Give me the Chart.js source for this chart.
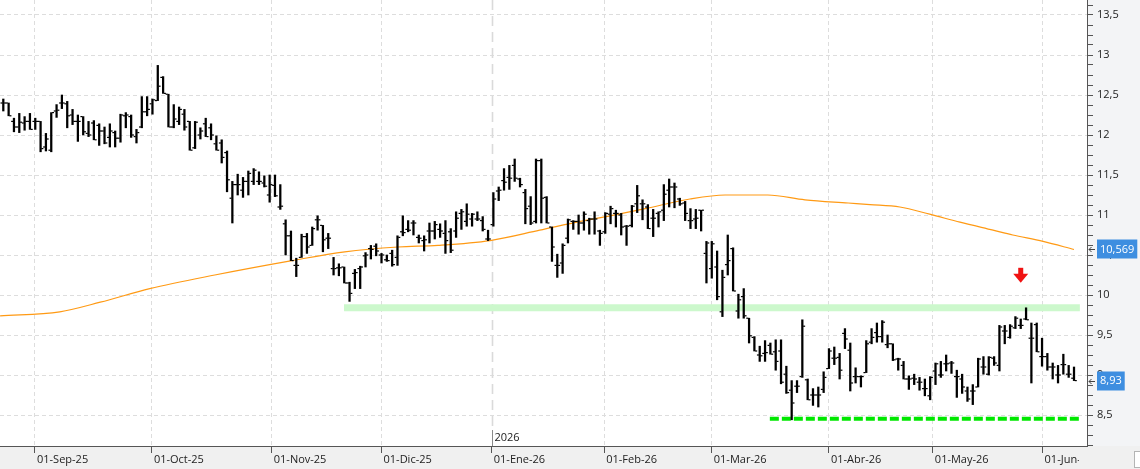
<!DOCTYPE html>
<html lang="es">
<head>
<meta charset="utf-8">
<title>Cotización diaria</title>
<script src="https://cdn.jsdelivr.net/npm/chart.js@4.4.1/dist/chart.umd.min.js"></script>
<style>
  html, body { margin: 0; padding: 0; background: #fff; }
</style>
</head>
<body>
<canvas id="grafica" width="1140" height="469"></canvas>
<script>
// barras diarias (indice 0 = primera sesion visible, finales de agosto 2025)
const aperturas = [
  12.40,12.40,12.17,12.10,12.15,12.17,12.17,12.17,11.85,11.81,
  12.30,12.40,12.39,12.25,12.17,12.23,12.02,12.15,12.12,12.05,
  11.97,12.03,11.96,12.24,12.23,11.98,12.10,12.29,12.39,12.43,
  12.72,12.51,12.10,12.17,12.26,12.17,11.84,12.00,12.14,12.09,
  11.89,11.90,11.78,11.21,11.38,11.31,11.42,11.42,11.42,11.40,
  11.25,11.37,11.10,10.89,10.74,10.37,10.47,10.73,10.62,10.94,
  10.87,10.71,10.33,10.34,10.35,10.15,10.27,10.33,10.49,10.58,
  10.61,10.50,10.44,10.52,10.47,10.79,10.82,10.90,10.72,10.68,
  10.80,10.80,10.82,10.77,10.79,10.80,11.02,10.92,10.95,10.95,
  10.93,10.70,10.88,11.30,11.43,11.47,11.62,11.45,11.28,11.11,
  10.92,11.68,11.22,10.85,10.37,10.40,10.71,10.92,10.92,10.90,
  10.93,10.95,10.80,10.79,11.01,11.02,11.00,10.86,10.87,11.14,
  11.14,11.10,10.96,11.02,11.06,11.31,11.35,11.20,11.15,10.93,
  10.95,11.06,10.52,10.33,10.35,9.79,10.38,10.58,9.80,9.98,
  9.71,9.47,9.25,9.27,9.37,9.29,9.30,9.01,8.81,8.86,
  8.98,8.94,8.75,8.75,8.82,9.08,9.21,9.22,9.52,9.31,
  8.98,8.98,9.03,9.41,9.53,9.48,9.38,9.39,9.20,9.12,
  8.95,8.96,8.91,8.83,8.74,9.05,9.00,9.14,9.15,8.98,
  8.95,8.80,8.80,8.85,9.10,9.01,9.21,9.12,9.55,9.47,
  9.59,9.62,9.70,9.46,9.63,9.23,9.23,9.10,9.00,9.13,
  9.01,8.96
];
const maximos = [
  12.45,12.40,12.21,12.27,12.23,12.27,12.21,12.17,12.02,12.28,
  12.38,12.50,12.42,12.32,12.25,12.23,12.17,12.18,12.14,12.10,
  12.14,12.05,12.26,12.28,12.25,12.07,12.48,12.48,12.45,12.87,
  12.73,12.51,12.38,12.35,12.32,12.17,12.17,12.09,12.21,12.14,
  11.99,11.94,11.80,11.42,11.51,11.47,11.55,11.58,11.54,11.49,
  11.50,11.50,11.38,10.94,10.80,10.46,10.76,10.77,10.85,10.99,
  10.87,10.77,10.47,10.39,10.35,10.16,10.32,10.36,10.53,10.62,
  10.64,10.52,10.50,10.56,10.74,10.99,10.93,10.93,10.75,10.74,
  10.90,10.92,10.89,10.93,10.83,11.04,11.07,11.14,11.02,11.04,
  10.98,10.81,11.28,11.35,11.58,11.62,11.70,11.46,11.32,11.23,
  11.70,11.70,11.23,10.85,10.51,10.64,10.95,10.93,11.00,11.04,
  10.96,11.04,10.81,11.03,11.11,11.06,11.02,10.87,11.12,11.37,
  11.19,11.13,11.07,11.04,11.38,11.45,11.40,11.21,11.17,11.08,
  11.07,11.06,10.67,10.67,10.55,10.31,10.75,10.59,10.01,10.08,
  9.71,9.48,9.36,9.43,9.40,9.44,9.44,9.11,8.93,8.93,
  9.69,8.95,8.83,8.85,9.04,9.33,9.35,9.27,9.58,9.40,
  9.09,8.99,9.43,9.58,9.65,9.68,9.50,9.39,9.21,9.17,
  8.99,9.01,8.97,8.95,8.98,9.15,9.17,9.25,9.17,9.06,
  9.01,8.85,8.88,9.21,9.23,9.23,9.23,9.62,9.62,9.63,
  9.73,9.70,9.84,9.65,9.65,9.46,9.27,9.15,9.12,9.26,
  9.12,9.10
];
const minimos = [
  12.30,12.24,12.04,12.03,12.06,12.07,12.07,11.79,11.80,11.79,
  12.22,12.33,12.09,12.13,11.92,12.00,11.98,11.94,11.87,11.89,
  11.85,11.85,11.91,12.09,11.97,11.90,12.09,12.24,12.26,12.43,
  12.52,12.10,12.09,12.13,12.06,11.81,11.83,11.95,11.98,11.94,
  11.81,11.65,11.29,10.90,11.25,11.22,11.25,11.38,11.38,11.35,
  11.16,11.23,11.07,10.50,10.43,10.23,10.47,10.52,10.62,10.81,
  10.54,10.58,10.25,10.24,10.15,9.92,10.08,10.08,10.35,10.45,
  10.49,10.40,10.42,10.36,10.37,10.74,10.79,10.75,10.65,10.55,
  10.65,10.70,10.72,10.52,10.53,10.72,10.82,10.86,10.86,10.93,
  10.80,10.68,10.86,11.18,11.31,11.32,11.42,11.35,10.89,10.88,
  10.90,10.90,10.90,10.42,10.22,10.27,10.65,10.82,10.76,10.81,
  10.76,10.76,10.62,10.77,10.89,10.85,10.75,10.62,10.85,11.03,
  10.94,10.83,10.73,10.85,10.93,11.10,11.09,11.12,10.93,10.83,
  10.83,10.80,10.15,10.21,9.94,9.73,10.25,10.05,9.71,9.71,
  9.40,9.30,9.17,9.17,9.26,9.06,8.89,8.77,8.44,8.78,
  8.97,8.69,8.62,8.60,8.78,9.08,9.13,8.95,9.33,8.80,
  8.90,8.85,9.03,9.39,9.41,9.41,9.34,9.18,9.06,8.95,
  8.82,8.88,8.81,8.74,8.69,8.88,8.97,9.05,9.02,8.72,
  8.77,8.67,8.63,8.85,9.01,9.00,9.12,9.05,9.39,9.46,
  9.58,9.58,9.69,8.90,9.29,9.11,9.06,8.95,8.90,9.01,
  8.97,8.93
];
const cierres = [
  12.40,12.24,12.10,12.16,12.17,12.07,12.17,11.83,11.95,12.28,
  12.31,12.40,12.24,12.17,12.17,12.04,12.00,11.94,12.05,11.90,
  12.05,11.96,12.25,12.25,12.00,12.03,12.29,12.32,12.44,12.61,
  12.52,12.10,12.20,12.32,12.10,11.81,12.16,12.05,11.98,12.00,
  11.81,11.72,11.44,11.38,11.38,11.42,11.52,11.56,11.42,11.36,
  11.38,11.24,11.11,10.74,10.43,10.37,10.73,10.60,10.83,10.94,
  10.69,10.71,10.33,10.34,10.15,10.02,10.28,10.35,10.50,10.57,
  10.55,10.50,10.43,10.38,10.72,10.78,10.81,10.90,10.71,10.69,
  10.80,10.88,10.80,10.68,10.56,10.96,11.04,11.01,11.01,10.95,
  10.82,10.70,11.20,11.31,11.41,11.46,11.46,11.38,11.08,10.90,
  11.68,11.21,10.90,10.60,10.37,10.62,10.94,10.92,10.90,11.01,
  10.95,10.95,10.77,11.02,11.08,11.02,10.85,10.86,11.11,11.24,
  11.14,10.83,10.96,11.04,11.26,11.35,11.35,11.14,11.02,10.93,
  10.96,11.06,10.65,10.64,9.98,10.22,10.43,10.05,9.94,9.74,
  9.49,9.30,9.24,9.28,9.26,9.17,8.91,8.78,8.65,8.86,
  9.61,8.69,8.75,8.75,8.97,9.30,9.21,9.06,9.45,8.90,
  8.98,8.98,9.39,9.47,9.48,9.66,9.39,9.19,9.20,8.95,
  8.95,8.95,8.91,8.83,8.97,9.14,9.00,9.14,9.15,8.98,
  8.85,8.70,8.80,9.20,9.10,9.22,9.15,9.60,9.55,9.61,
  9.71,9.62,9.69,9.46,9.29,9.23,9.10,9.10,9.00,9.13,
  9.01,8.93
];

// media movil (posicion en sesiones, valor)
const mediaIdx = [-0.6, 10.6, 18.2, 27.5, 39.7, 54.2, 64.1, 74.1, 81.6, 91.4, 100.7, 108.3, 113.9,
  120.5, 128.9, 135.5, 143.5, 150.5, 158.6, 162.7, 168.3, 173.9, 179.6, 185.8, 189.5, 195.2, 201];
const mediaVal = [9.74, 9.79, 9.91, 10.08, 10.25, 10.43, 10.54, 10.60, 10.62, 10.68, 10.81, 10.92, 10.99,
  11.08, 11.20, 11.25, 11.25, 11.19, 11.15, 11.13, 11.10, 11.01, 10.91, 10.81, 10.75, 10.67, 10.569];

// eje de fechas
const meses = ['01-Sep-25', '01-Oct-25', '01-Nov-25', '01-Dic-25', '01-Ene-26', '01-Feb-26', '01-Mar-26', '01-Abr-26', '01-May-26', '01-Jun-26'];
const mesPos = [5.95, 27.9, 50.4, 71.0, 91.7, 112.8, 133.0, 155.0, 174.5, 195.1];
const posAnio = 91.7;

// eje de precios
const yMayores = [8.5, 9, 9.5, 10, 10.5, 11, 11.5, 12, 12.5, 13, 13.5];

// lineas dibujadas a mano en el original
const banda = [9.84, 63.96, 202.1];     // valor, desde, hasta
const soporte = [8.454, 143.9, 202.1];
const flecha = [191, 10.34];            // sesion, valor de la punta superior

const fondo = {
  id: 'fondo',
  beforeDraw(chart) {
    const {ctx, chartArea: a, width, height} = chart;
    ctx.save();
    ctx.fillStyle = '#ffffff';
    ctx.fillRect(0, 0, width, height);
    ctx.fillStyle = '#f3f4f6';
    ctx.fillRect(a.right, 0, width - a.right, height);
    ctx.fillStyle = '#f0f0f0';
    ctx.fillRect(0, a.bottom, width, height - a.bottom);
    ctx.fillStyle = '#ffffff';
    ctx.strokeStyle = '#b4b4b4';
    ctx.fillRect(1134.5, 451.5, 7, 16);
    ctx.strokeRect(1134.5, 451.5, 7, 16);
    ctx.restore();
  }
};

const anio = {
  id: 'anio',
  beforeDatasetsDraw(chart) {
    const {ctx, chartArea: a, scales: {x}} = chart;
    const px = Math.round(x.getPixelForValue(posAnio)) + 0.5;
    ctx.save();
    ctx.strokeStyle = '#dadada';
    ctx.lineWidth = 1.6;
    ctx.setLineDash([10, 6]);
    ctx.beginPath();
    ctx.moveTo(px, a.top);
    ctx.lineTo(px, a.bottom - 16);
    ctx.stroke();
    ctx.setLineDash([]);
    ctx.strokeStyle = '#8a8a8a';
    ctx.lineWidth = 1;
    ctx.beginPath();
    ctx.moveTo(px, a.bottom - 16);
    ctx.lineTo(px, a.bottom);
    ctx.stroke();
    ctx.fillStyle = '#222';
    ctx.font = '11px "Open Sans"';
    ctx.textBaseline = 'middle';
    ctx.fillText('2026', px + 2, a.bottom - 8);
    ctx.restore();
  }
};

const marcas = {
  id: 'marcas',
  afterDatasetsDraw(chart) {
    const {ctx, scales: {x, y}} = chart;
    ctx.save();
    ctx.fillStyle = '#000';
    aperturas.forEach((o, i) => {
      const px = x.getPixelForValue(i);
      ctx.fillRect(px - 2.8, y.getPixelForValue(o) - 0.6, 2, 1.2);
      ctx.fillRect(px + 0.8, y.getPixelForValue(cierres[i]) - 0.6, 2, 1.2);
    });
    // flecha roja
    const fx = x.getPixelForValue(flecha[0]);
    const fy = y.getPixelForValue(flecha[1]);
    ctx.fillStyle = '#f01212';
    ctx.fillRect(fx - 2.5, fy, 5, 7);
    ctx.beginPath();
    ctx.moveTo(fx - 7.5, fy + 6);
    ctx.lineTo(fx + 7.5, fy + 6);
    ctx.lineTo(fx, fy + 15);
    ctx.closePath();
    ctx.fill();
    ctx.restore();
  }
};

const etiquetas = {
  id: 'etiquetas',
  afterDraw(chart) {
    const {ctx, chartArea: a, scales: {x, y}} = chart;
    ctx.save();
    ctx.beginPath();
    ctx.rect(0, a.bottom, a.right - 8, chart.height - a.bottom);
    ctx.clip();
    ctx.font = '11px "Open Sans"';
    ctx.fillStyle = '#222';
    ctx.textBaseline = 'middle';
    ctx.textAlign = 'left';
    mesPos.forEach((p, i) => ctx.fillText(meses[i], x.getPixelForValue(p) + 2, a.bottom + 14));
    ctx.restore();

    const caja = (v) => {
      const py = y.getPixelForValue(v);
      const txt = String(v).replace('.', ',');
      ctx.save();
      ctx.font = '11px "Open Sans"';
      const w = ctx.measureText(txt).width + 6;
      ctx.fillStyle = '#3e8ee0';
      ctx.fillRect(a.right + 10, Math.round(py) - 9.5, w, 19);
      ctx.fillStyle = '#fff';
      ctx.textBaseline = 'middle';
      ctx.fillText(txt, a.right + 13, py + 0.5);
      ctx.strokeStyle = '#444';
      ctx.lineWidth = 1;
      ctx.beginPath();
      ctx.moveTo(a.right + 2, Math.round(py) + 0.5);
      ctx.lineTo(a.right + 8, Math.round(py) + 0.5);
      ctx.moveTo(a.right + 4.5, Math.round(py) - 2);
      ctx.lineTo(a.right + 2, Math.round(py) + 0.5);
      ctx.lineTo(a.right + 4.5, Math.round(py) + 3);
      ctx.stroke();
      ctx.restore();
    };
    caja(mediaVal[mediaVal.length - 1]);
    caja(cierres[cierres.length - 1]);
  }
};

Chart.defaults.font.family = 'Open Sans';

new Chart(document.getElementById('grafica'), {
  type: 'bar',
  data: {
    datasets: [
      {
        type: 'bar',
        data: minimos.map((l, i) => ({x: i, y: [l, maximos[i]]})),
        backgroundColor: '#000',
        barThickness: 1.6,
        order: 0
      },
      {
        type: 'line',
        data: mediaIdx.map((p, i) => ({x: p, y: mediaVal[i]})),
        borderColor: '#ff9a14',
        borderWidth: 1.2,
        pointRadius: 0,
        cubicInterpolationMode: 'monotone',
        order: 1
      },
      {
        type: 'line',
        data: [{x: soporte[1], y: soporte[0]}, {x: soporte[2], y: soporte[0]}],
        borderColor: '#00e800',
        borderWidth: 4,
        borderDash: [9, 3],
        pointRadius: 0,
        order: 2
      },
      {
        type: 'line',
        data: [{x: banda[1], y: banda[0]}, {x: banda[2], y: banda[0]}],
        borderColor: '#ccf8cc',
        borderWidth: 7,
        pointRadius: 0,
        order: 3
      }
    ]
  },
  options: {
    responsive: false,
    devicePixelRatio: 1,
    animation: false,
    events: [],
    layout: { padding: 0 },
    plugins: {
      legend: { display: false },
      tooltip: { enabled: false }
    },
    scales: {
      x: {
        type: 'linear',
        min: -0.62,
        max: 203.44,
        offset: false,
        afterBuildTicks: (s) => { s.ticks = mesPos.map(v => ({value: v})); },
        afterFit: (s) => { s.height = 23; s.paddingLeft = 0; s.paddingRight = 0; },
        ticks: { display: false },
        grid: {
          offset: false,
          color: (c) => c.tick && c.tick.value === posAnio ? 'rgba(0,0,0,0)' : '#dddddd',
          tickColor: '#555',
          tickLength: 7
        },
        border: { color: '#555', dash: [4, 3] }
      },
      y: {
        type: 'linear',
        position: 'right',
        min: 8.1125,
        max: 13.6875,
        afterBuildTicks: (s) => {
          const t = [];
          for (let v = 8.125; v < 13.65; v += 0.125) t.push({value: Math.round(v * 1000) / 1000});
          s.ticks = t;
        },
        afterFit: (s) => { s.width = 53; s.paddingTop = 0; s.paddingBottom = 0; },
        ticks: {
          autoSkip: false,
          padding: 4,
          color: '#222',
          font: { family: 'Open Sans', size: 11 },
          callback: (v) => yMayores.includes(v) ? String(v).replace('.', ',') : ''
        },
        grid: {
          color: (c) => c.tick && yMayores.includes(c.tick.value) ? '#dddddd' : 'rgba(0,0,0,0)',
          tickColor: '#555',
          tickLength: 6
        },
        border: { color: '#555', dash: [4, 3] }
      }
    }
  },
  plugins: [fondo, anio, marcas, etiquetas]
});
</script>
</body>
</html>
